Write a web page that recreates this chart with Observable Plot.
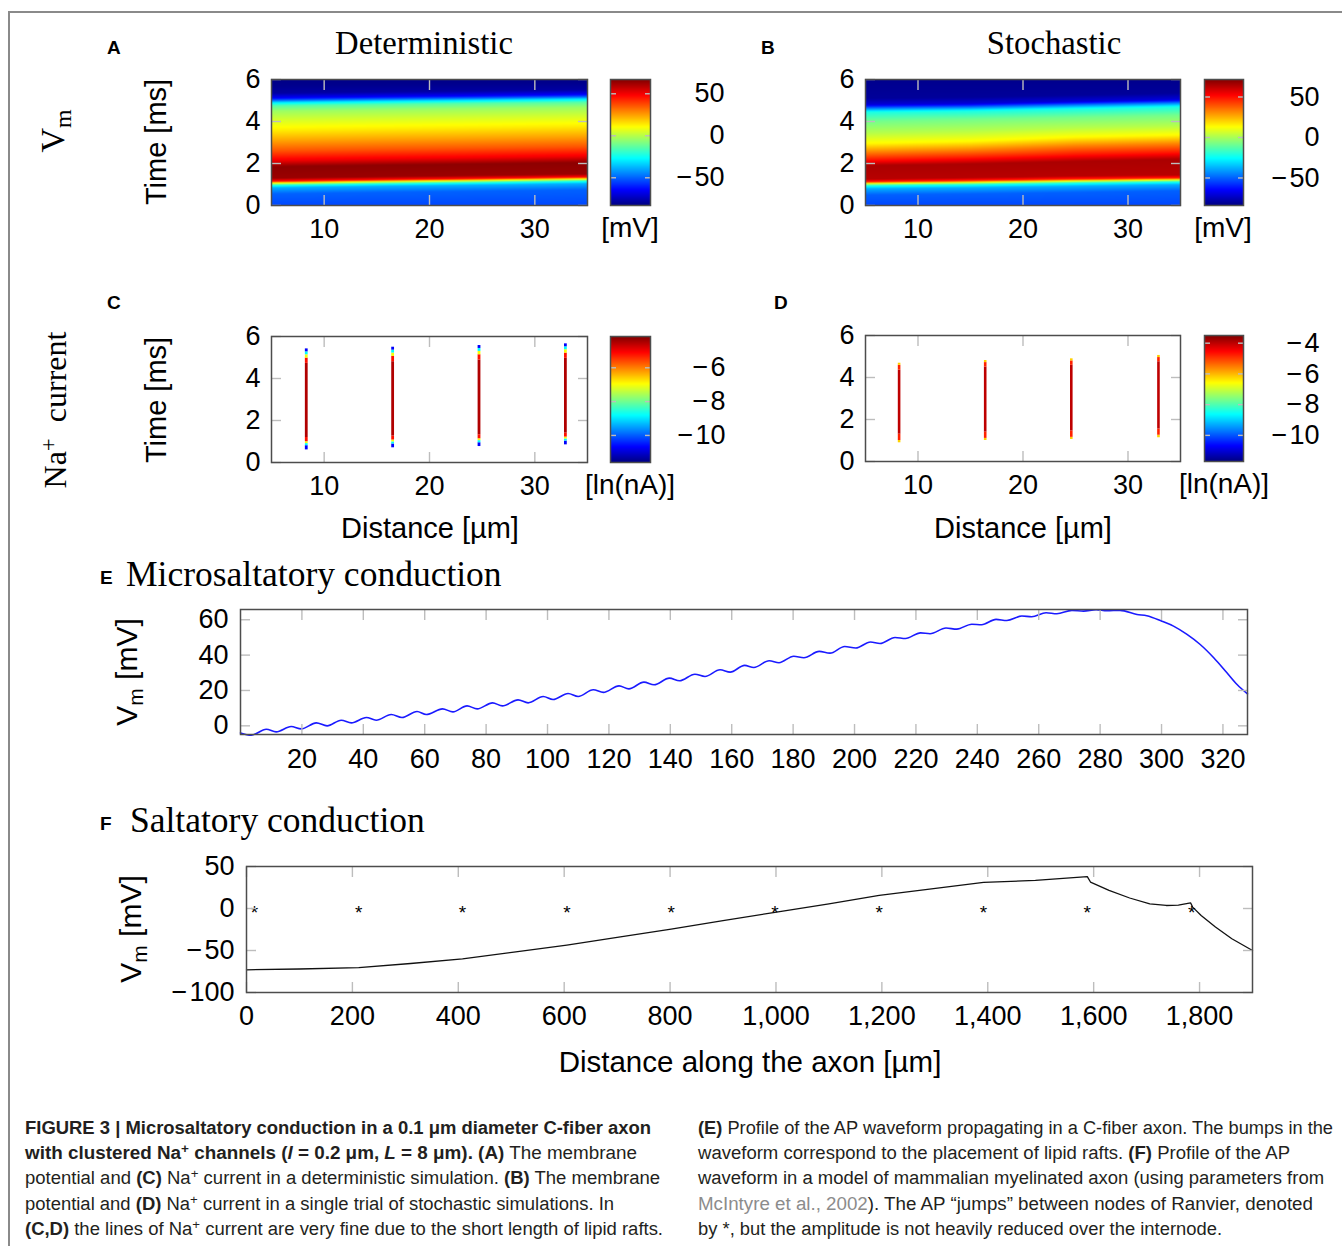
<!DOCTYPE html>
<html><head><meta charset="utf-8">
<script src="https://cdn.jsdelivr.net/npm/d3@7"></script>
<script src="https://cdn.jsdelivr.net/npm/@observablehq/plot@0.6"></script>
<style>
body{margin:0;background:#fff;}
#fig{position:relative;width:1342px;height:1246px;overflow:hidden;font-family:"Liberation Sans",Arial,sans-serif;color:#000;background:#fff;}
.abs{position:absolute;white-space:nowrap;line-height:1;}
.cap{position:absolute;white-space:nowrap;line-height:1;font-size:18px;color:#231f20;transform-origin:0 50%;}
.sup{font-size:0.72em;position:relative;top:-0.45em;}
.sub{font-size:0.7em;position:relative;top:0.3em;}
</style></head><body><div id="fig"></div><script>
// ---------------- DATA ----------------
// A: deterministic Vm heat map, profiles along time at several distances
const aCols = [5, 15, 25, 35];
const aLevels = [-54, -50, -38, -20, 12, 45, 63, 65, 50, 36, 24, 14, 4, -4, -14, -30, -48, -65, -78, -81, -82];
const aTimes = [
  [0, 0.55, 0.85, 0.97, 1.07, 1.15, 1.30, 1.85, 2.15, 2.60, 3.10, 3.55, 4.10, 4.50, 4.75, 4.90, 5.00, 5.12, 5.35, 5.70, 6],
  [0, 0.62, 0.92, 1.04, 1.14, 1.22, 1.37, 1.92, 2.22, 2.67, 3.17, 3.62, 4.16, 4.56, 4.81, 4.96, 5.06, 5.18, 5.41, 5.75, 6],
  [0, 0.68, 0.98, 1.10, 1.20, 1.28, 1.43, 1.98, 2.28, 2.73, 3.23, 3.68, 4.22, 4.62, 4.87, 5.01, 5.11, 5.23, 5.46, 5.80, 6],
  [0, 0.75, 1.05, 1.17, 1.27, 1.35, 1.50, 2.05, 2.35, 2.80, 3.30, 3.75, 4.28, 4.68, 4.92, 5.07, 5.17, 5.29, 5.52, 5.85, 6]
];
const aColorDomain = [-83, 67];
const aColorTicks = [50, 0, -50];

// B: stochastic Vm heat map
const bCols = [5, 15, 25, 35];
const bLevels = [-54, -50, -38, -20, 12, 45, 63, 65, 50, 32, 14, 2, -8, -22, -45, -70, -80, -82];
const bTimes = [
  [0, 0.50, 0.80, 0.95, 1.05, 1.12, 1.25, 1.90, 2.15, 2.55, 2.95, 3.45, 4.00, 4.45, 4.62, 4.80, 5.10, 6],
  [0, 0.55, 0.85, 1.00, 1.10, 1.18, 1.32, 1.98, 2.25, 2.65, 3.05, 3.55, 4.10, 4.50, 4.67, 4.85, 5.15, 6],
  [0, 0.62, 0.92, 1.07, 1.17, 1.25, 1.40, 2.10, 2.40, 2.85, 3.25, 3.70, 4.20, 4.60, 4.78, 4.95, 5.25, 6],
  [0, 0.70, 1.00, 1.13, 1.23, 1.30, 1.45, 2.20, 2.50, 2.95, 3.35, 3.80, 4.30, 4.70, 4.88, 5.05, 5.35, 6]
];
const bColorDomain = [-84, 71.6];
const bColorTicks = [50, 0, -50];

// C: deterministic Na+ current (ln nA) along each lipid raft
const cRaftX = [8.3, 16.5, 24.7, 32.9];
const cBreaks = [
  [0.60, 0.80, 0.90, 0.99, 1.19, 4.72, 4.97, 5.13, 5.27, 5.41],
  [0.70, 0.88, 0.98, 1.07, 1.26, 4.80, 5.05, 5.21, 5.35, 5.49],
  [0.76, 0.94, 1.04, 1.13, 1.32, 4.88, 5.13, 5.29, 5.43, 5.57],
  [0.84, 1.02, 1.12, 1.21, 1.40, 4.96, 5.21, 5.37, 5.51, 5.65]
];
const cLevels = [-10.7, -8.8, -7.0, -5.2, -4.5, -5.2, -7.0, -8.8, -10.7];
const cColorDomain = [-11.6, -4.15];
const cColorTicks = [-6, -8, -10];

// D: stochastic Na+ current
const dRaftX = [8.2, 16.4, 24.6, 32.9];
const dBreaks = [
  [0.89, 1.00, 1.30, 4.35, 4.58, 4.68],
  [1.00, 1.10, 1.40, 4.50, 4.71, 4.81],
  [1.05, 1.15, 1.45, 4.58, 4.79, 4.89],
  [1.13, 1.25, 1.55, 4.75, 4.95, 5.05]
];
const dLevels = [-6.2, -4.8, -4.0, -4.8, -6.2];
const dColorDomain = [-11.7, -3.5];
const dColorTicks = [-4, -6, -8, -10];

const heatXTicks = [10, 20, 30];
const heatYTicks = [0, 2, 4, 6];

// E: microsaltatory conduction profile
const eX = [0, 3.5, 8.4, 11.6, 16.5, 19.8, 24.7, 28.2, 32.8, 36.1, 41.0, 44.2, 49.1, 52.6, 57.5, 60.5, 65.8, 69.2, 73.8, 77.1,
  82.1, 85.3, 90.4, 93.7, 98.6, 101.8, 106.7, 110, 114.9, 118.2, 123.3, 126.5, 131.4, 134.7, 139.7, 143, 148, 151.3, 156.2, 159.5,
  164.2, 167.2, 172.2, 175.4, 180.2, 183.5, 188.5, 192, 196.8, 200.4, 205.2, 208.3, 213.2, 216.6, 221.5, 224.6, 229.8, 233.3, 238.2, 241.4,
  246.1, 249.6, 254.5, 257.7, 262.4, 265.9, 270.8, 274.6, 278.7, 282.2, 286.5, 292, 295.2, 300.1, 303.9, 308.3, 312.6, 317, 321.3, 324.6, 328];
const eV = [-4.0, -5.3, -1.9, -3.4, -0.4, -1.7, 1.7, 0, 3.2, 1.7, 4.7, 3.2, 6.4, 4.7, 8.1, 6.4, 9.6, 7.9, 11.3, 9.6,
  13.0, 11.3, 14.7, 13.0, 16.6, 14.9, 18.3, 16.6, 20.4, 18.9, 22.6, 20.9, 24.7, 23.2, 27, 25.5, 29.2, 27.9, 31.7, 30.4,
  34.2, 33, 36.8, 35.7, 39.4, 38.5, 42.1, 41.1, 44.9, 44, 47.4, 46.6, 50, 49.4, 52.6, 52.1, 55.3, 54.7, 57.5, 57.2,
  60.2, 59.6, 62.1, 61.7, 64, 63.4, 65.3, 64.9, 65.7, 65.1, 65.3, 63, 62.3, 59.2, 56.4, 51.7, 46, 38.5, 30, 23.4, 18.1];
const eXDomain = [0, 328];
const eYDomain = [-4.9, 65.8];
const eXTicks = [20, 40, 60, 80, 100, 120, 140, 160, 180, 200, 220, 240, 260, 280, 300, 320];
const eYTicks = [0, 20, 40, 60];

// F: saltatory conduction profile
const fX = [0, 100, 212, 310, 408, 505, 605, 700, 802, 900, 998, 1100, 1195, 1290, 1392, 1490, 1588, 1594, 1629, 1668, 1706, 1737, 1760, 1783, 1787, 1803, 1830, 1861, 1900];
const fV = [-73, -72, -70.5, -65.5, -60, -52, -43.5, -34.5, -24.5, -14.5, -4.5, 5.5, 15.5, 23, 31, 33.5, 38, 31.5, 21.5, 12.5, 5.5, 3.6, 4, 6.8, 1.6, -8.3, -22, -36, -50];
const fNodes = [15, 212, 408, 605, 802, 998, 1195, 1392, 1588, 1785];
const fNodeV = 0;
const fXDomain = [0, 1900];
const fYDomain = [-100, 50];
const fXTicks = [0, 200, 400, 600, 800, 1000, 1200, 1400, 1600, 1800];
const fYTicks = [-100, -50, 0, 50];

// ---------------- RENDER ----------------
const fig = document.getElementById("fig");
const jet = d3.piecewise(d3.interpolateRgb, ["#000080","#0000ff","#0080ff","#00ffff","#80ff80","#ffff00","#ff8000","#ff0000","#800000"]);
const FS = 27;
const fmtMinus = d => d < 0 ? "\u2212\u200A" + Math.abs(d) : String(d);
const grayTick = {stroke: "#bdbdbd", strokeWidth: 1.4, tickFormat: () => "", label: null};
const plotStyle = {fontFamily: '"Liberation Sans", Arial, sans-serif', color: "#000", background: "transparent", overflow: "visible"};

function place(el, left, topPx) {
  el.style.position = "absolute";
  el.style.left = left + "px";
  el.style.top = topPx + "px";
  fig.appendChild(el);
}
function panel({fl, ft, fw, fh, mL = 70, mR = 10, mT = 10, mB = 50, x, y, color, marks}) {
  const svg = Plot.plot({
    width: mL + fw + mR, height: mT + fh + mB,
    marginLeft: mL, marginRight: mR, marginTop: mT, marginBottom: mB,
    x, y, color, style: plotStyle, marks
  });
  place(svg, fl - mL, ft - mT);
}
function boxAxes(xt, yt, {xfmt = fmtMinus, yfmt = fmtMinus, xPad = 13, yPad = 11, len = 10} = {}) {
  return [
    Plot.axisX(xt, {anchor: "bottom", tickSize: -len, ...grayTick}),
    Plot.axisX(xt, {anchor: "top", tickSize: -len, ...grayTick}),
    Plot.axisY(yt, {anchor: "left", tickSize: -len, ...grayTick}),
    Plot.axisY(yt, {anchor: "right", tickSize: -len, ...grayTick}),
    Plot.axisX(xt, {anchor: "bottom", tickSize: 0, tickPadding: xPad, fontSize: FS, label: null, tickFormat: xfmt}),
    Plot.axisY(yt, {anchor: "left", tickSize: 0, tickPadding: yPad, fontSize: FS, label: null, tickFormat: yfmt}),
    Plot.frame({stroke: "#4d4d4d", strokeWidth: 1.5})
  ];
}
function colorbar({fl, ft, fw, fh, domain, ticks, labelRight}) {
  panel({fl, ft, fw, fh, mL: 4, mR: labelRight + 10, mT: 10, mB: 10,
    x: {domain: [0, 1], axis: null},
    y: {domain},
    color: {type: "linear", domain, interpolate: jet},
    marks: [
      Plot.raster({fill: (x, y) => y, x1: 0, x2: 1, y1: domain[0], y2: domain[1]}),
      Plot.axisY(ticks, {anchor: "left", tickSize: -6, ...grayTick}),
      Plot.axisY(ticks, {anchor: "right", tickSize: -6, ...grayTick}),
      Plot.axisY(ticks, {anchor: "right", tickSize: 0, tickPadding: 0, textAnchor: "end", dx: labelRight, fontSize: FS, label: null, tickFormat: fmtMinus}),
      Plot.frame({stroke: "#4d4d4d", strokeWidth: 1.5})
    ]});
}
function heatData(cols, times, levels) {
  const out = [];
  cols.forEach((xc, i) => times[i].forEach((t, j) => out.push({x: xc, t, v: levels[j]})));
  return out;
}
function raftData(xs, breaks, levels) {
  const out = [];
  xs.forEach((xc, i) => levels.forEach((v, j) => out.push({x: xc, t1: breaks[i][j], t2: breaks[i][j + 1], v})));
  return out;
}

// Panel A
panel({fl: 271, ft: 79, fw: 316, fh: 126,
  x: {domain: [5, 35]}, y: {domain: [0, 6]},
  color: {type: "linear", domain: aColorDomain, interpolate: jet},
  marks: [
    Plot.raster(heatData(aCols, aTimes, aLevels), {x: "x", y: "t", fill: "v", interpolate: "barycentric", x1: 5, x2: 35, y1: 0, y2: 6}),
    ...boxAxes(heatXTicks, heatYTicks)
  ]});
colorbar({fl: 610, ft: 79, fw: 40, fh: 126, domain: aColorDomain, ticks: aColorTicks, labelRight: 74});

// Panel B
panel({fl: 865, ft: 79, fw: 315, fh: 126,
  x: {domain: [5, 35]}, y: {domain: [0, 6]},
  color: {type: "linear", domain: bColorDomain, interpolate: jet},
  marks: [
    Plot.raster(heatData(bCols, bTimes, bLevels), {x: "x", y: "t", fill: "v", interpolate: "barycentric", x1: 5, x2: 35, y1: 0, y2: 6}),
    ...boxAxes(heatXTicks, heatYTicks)
  ]});
colorbar({fl: 1204, ft: 79, fw: 39, fh: 126, domain: bColorDomain, ticks: bColorTicks, labelRight: 76});

// Panel C
panel({fl: 271, ft: 336, fw: 316, fh: 126,
  x: {domain: [5, 35]}, y: {domain: [0, 6]},
  color: {type: "linear", domain: cColorDomain, interpolate: jet},
  marks: [
    Plot.ruleX(raftData(cRaftX, cBreaks, cLevels), {x: "x", y1: "t1", y2: "t2", stroke: "v", strokeWidth: 2.8}),
    ...boxAxes(heatXTicks, heatYTicks)
  ]});
colorbar({fl: 610, ft: 336, fw: 40, fh: 126, domain: cColorDomain, ticks: cColorTicks, labelRight: 75});

// Panel D
panel({fl: 865, ft: 335, fw: 315, fh: 126,
  x: {domain: [5, 35]}, y: {domain: [0, 6]},
  color: {type: "linear", domain: dColorDomain, interpolate: jet},
  marks: [
    Plot.ruleX(raftData(dRaftX, dBreaks, dLevels), {x: "x", y1: "t1", y2: "t2", stroke: "v", strokeWidth: 2.6}),
    ...boxAxes(heatXTicks, heatYTicks)
  ]});
colorbar({fl: 1204, ft: 335, fw: 39, fh: 126, domain: dColorDomain, ticks: dColorTicks, labelRight: 76});

// Panel E
panel({fl: 240, ft: 609, fw: 1007, fh: 125,
  x: {domain: eXDomain}, y: {domain: eYDomain},
  marks: [
    Plot.line(eX.map((x, i) => ({x, v: eV[i]})), {x: "x", y: "v", stroke: "#1a1aff", strokeWidth: 1.6, curve: "monotone-x"}),
    ...boxAxes(eXTicks, eYTicks, {yPad: 12, xPad: 14})
  ]});

// Panel F
panel({fl: 246, ft: 866, fw: 1006, fh: 126,
  x: {domain: fXDomain}, y: {domain: fYDomain},
  marks: [
    Plot.line(fX.map((x, i) => ({x, v: fV[i]})), {x: "x", y: "v", stroke: "#111", strokeWidth: 1.3}),
    Plot.text(fNodes.map(x => ({x, v: fNodeV})), {x: "x", y: "v", text: () => "*", fontSize: 19, dy: 4, fill: "#000"}),
    ...boxAxes(fXTicks, fYTicks, {xfmt: d3.format(","), yPad: 12, xPad: 13})
  ]});

// ---------------- TEXT ----------------
const SERIF = '"Liberation Serif", "Times New Roman", serif';
function label(html, {x, y, size = 28, serif = false, bold = false, anchor = "middle", rotate = false, color}) {
  const d = document.createElement("div");
  d.className = "abs";
  d.innerHTML = html;
  d.style.left = x + "px"; d.style.top = y + "px"; d.style.fontSize = size + "px";
  if (serif) d.style.fontFamily = SERIF;
  if (bold) d.style.fontWeight = "bold";
  if (color) d.style.color = color;
  const tx = anchor === "middle" ? "-50%" : anchor === "end" ? "-100%" : "0";
  d.style.transform = rotate ? "translate(-50%,-50%) rotate(-90deg)" : `translate(${tx},-50%)`;
  fig.appendChild(d);
}
label("Deterministic", {x: 424, y: 43, size: 32.7, serif: true});
label("Stochastic", {x: 1054, y: 43, size: 32.7, serif: true});
label("A", {x: 107, y: 47, size: 19, bold: true, anchor: "start"});
label("B", {x: 761, y: 47, size: 19, bold: true, anchor: "start"});
label("C", {x: 107, y: 302, size: 19, bold: true, anchor: "start"});
label("D", {x: 774, y: 302, size: 19, bold: true, anchor: "start"});
label("V<span class='sub'>m</span>", {x: 53, y: 131, size: 34, serif: true, rotate: true});
label("Na<span class='sup'>+</span>&nbsp;&nbsp;current", {x: 55, y: 410, size: 32, serif: true, rotate: true});
label("Time [ms]", {x: 156, y: 142, size: 29, rotate: true});
label("Time [ms]", {x: 156, y: 400, size: 29, rotate: true});
label("[mV]", {x: 630, y: 228, size: 28});
label("[mV]", {x: 1223, y: 228, size: 28});
label("[ln(nA)]", {x: 630, y: 485, size: 28});
label("[ln(nA)]", {x: 1224, y: 484, size: 28});
label("Distance [µm]", {x: 430, y: 528, size: 29});
label("Distance [µm]", {x: 1023, y: 528, size: 29});
label("E", {x: 100, y: 577, size: 19, bold: true, anchor: "start"});
label("Microsaltatory conduction", {x: 126, y: 575, size: 35.5, serif: true, anchor: "start"});
label("F", {x: 100, y: 823, size: 19, bold: true, anchor: "start"});
label("Saltatory conduction", {x: 130, y: 821, size: 35.5, serif: true, anchor: "start"});
label("V<span class='sub'>m</span> [mV]", {x: 127, y: 672, size: 30, rotate: true});
label("V<span class='sub'>m</span> [mV]", {x: 131, y: 929, size: 30, rotate: true});
label("Distance along the axon [µm]", {x: 750, y: 1062, size: 29.5});

// frame lines of the figure
const topLine = document.createElement("div");
topLine.style.cssText = "position:absolute;left:8px;top:11px;width:1334px;height:2px;background:#8a8a8a;";
fig.appendChild(topLine);
const leftLine = document.createElement("div");
leftLine.style.cssText = "position:absolute;left:8px;top:11px;width:2px;height:1235px;background:#8a8a8a;";
fig.appendChild(leftLine);

// caption
const sp = "<span class='sup'>+</span>";
const capLines = [
  {x: 25, y: 1128, w: 626, html: "<b>FIGURE 3 | Microsaltatory conduction in a 0.1 μm diameter C-fiber axon</b>"},
  {x: 25, y: 1153, w: 612, html: "<b>with clustered Na" + sp + " channels (<i>l</i> = 0.2 μm, <i>L</i> = 8 μm). (A)</b> The membrane"},
  {x: 25, y: 1178, w: 635, html: "potential and <b>(C)</b> Na" + sp + " current in a deterministic simulation. <b>(B)</b> The membrane"},
  {x: 25, y: 1204, w: 589, html: "potential and <b>(D)</b> Na" + sp + " current in a single trial of stochastic simulations. In"},
  {x: 25, y: 1229, w: 638, html: "<b>(C,D)</b> the lines of Na" + sp + " current are very fine due to the short length of lipid rafts."},
  {x: 698, y: 1128, w: 635, html: "<b>(E)</b> Profile of the AP waveform propagating in a C-fiber axon. The bumps in the"},
  {x: 698, y: 1153, w: 592, html: "waveform correspond to the placement of lipid rafts. <b>(F)</b> Profile of the AP"},
  {x: 698, y: 1178, w: 626, html: "waveform in a model of mammalian myelinated axon (using parameters from"},
  {x: 698, y: 1204, w: 615, html: "<span style='color:#8c8c8c'>McIntyre et al., 2002</span>). The AP “jumps” between nodes of Ranvier, denoted"},
  {x: 698, y: 1229, w: 524, html: "by *, but the amplitude is not heavily reduced over the internode."}
];
capLines.forEach(l => {
  const d = document.createElement("div");
  d.className = "cap";
  d.innerHTML = l.html;
  d.style.left = l.x + "px"; d.style.top = l.y + "px";
  fig.appendChild(d);
  const w = d.getBoundingClientRect().width;
  d.style.transform = `translateY(-50%) scaleX(${(l.w / w).toFixed(4)})`;
});
</script></body></html>
